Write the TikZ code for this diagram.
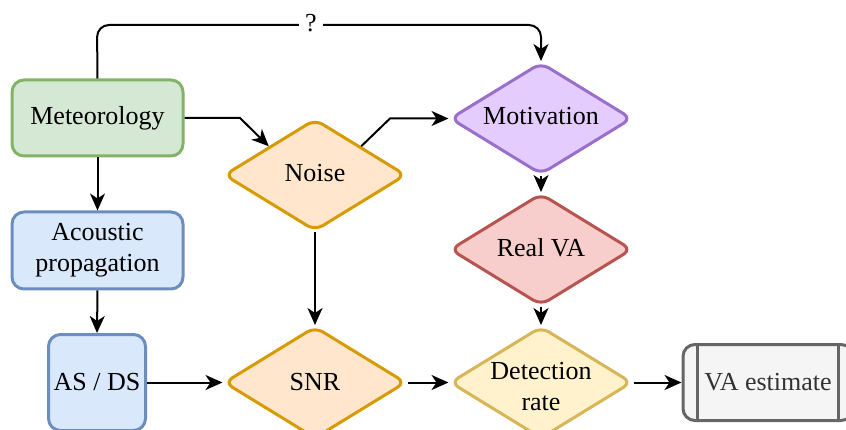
\documentclass[tikz,border=0pt]{standalone}
\usepackage{fontspec}
\setmainfont{Liberation Serif}
\usetikzlibrary{shapes.geometric,arrows.meta}
\definecolor{gfill}{HTML}{D5E8D4}\definecolor{gline}{HTML}{82B366}
\definecolor{bfill}{HTML}{DAE8FC}\definecolor{bline}{HTML}{6C8EBF}
\definecolor{ofill}{HTML}{FFE6CC}\definecolor{oline}{HTML}{D79B00}
\definecolor{pfill}{HTML}{E5CCFF}\definecolor{pline}{HTML}{9A6FCB}
\definecolor{rfill}{HTML}{F8CECC}\definecolor{rline}{HTML}{B85450}
\definecolor{yfill}{HTML}{FFF2CC}\definecolor{yline}{HTML}{D6B656}
\definecolor{kfill}{HTML}{F5F5F5}\definecolor{kline}{HTML}{666666}\definecolor{ktext}{HTML}{333333}
\tikzset{
  lbl/.style={font=\fontsize{26pt}{31pt}\selectfont, align=center, inner sep=0pt},
  rbox/.style={lbl, rectangle, rounded corners=12pt, line width=3pt, inner sep=0pt},
  dia/.style={diamond, rounded corners=9pt, line width=3pt, inner sep=0pt,
              minimum width=182pt, minimum height=112pt},
  conn/.style={line width=2pt, -{Stealth[length=17pt,width=15pt,inset=5pt]}},
}
\begin{document}
\begin{tikzpicture}[x=1pt,y=-1pt]
\useasboundingbox (0,0) rectangle (846,430);
% nodes
\node[rbox, draw=gline, fill=gfill, minimum width=171pt, minimum height=76pt] (met) at (97.5,118) {Meteorology};
\node[rbox, draw=bline, fill=bfill, minimum width=171pt, minimum height=77pt] (aco) at (97.5,250.5) {Acoustic\\propagation};
\node[rbox, draw=bline, fill=bfill, minimum width=97pt, minimum height=96pt] (asds) at (97,382.5) {AS / DS};
\node[dia, draw=oline, fill=ofill] (noise) at (315,175) {};
\node[lbl] (noiset) at (315,173) {Noise};
\node[dia, draw=oline, fill=ofill] (snr) at (315,382.5) {};
\node[lbl] (snrt) at (315,382.5) {SNR};
\node[dia, draw=pline, fill=pfill] (mot) at (541,118.5) {};
\node[lbl] (mott) at (541,116) {Motivation};
\node[dia, draw=rline, fill=rfill] (real) at (541,249.5) {};
\node[lbl] (realt) at (541,248) {Real VA};
\node[dia, draw=yline, fill=yfill] (det) at (541,382.5) {};
\node[lbl] (dett) at (541,387) {Detection\\rate};
\node[rbox, draw=kline, fill=kfill, text=ktext, minimum width=170pt, minimum height=76pt] (va) at (768,382.5) {VA estimate};
\draw[kline, line width=3pt] ([xshift=16pt]va.north west) -- ([xshift=16pt]va.south west);
\draw[kline, line width=3pt] ([xshift=-16pt]va.north east) -- ([xshift=-16pt]va.south east);
% connectors
\coordinate (q1) at (97,25);
\coordinate (q2) at (541,25);
\draw[conn, rounded corners=12pt] (met.north) -- (q1) -- (q2) -- (mot.north);
\node[lbl, fill=white, inner sep=6pt] (qm) at (311,23) {?};
\coordinate (b1) at (240,118);
\draw[conn] (met.east) -- (b1) -- (noise.north west);
\coordinate (b2) at (390,118.5);
\draw[conn] (noise.north east) -- (b2) -- (mot.west);
\draw[conn] (met.south) -- (aco.north);
\draw[conn] (aco.south) -- (asds.north);
\draw[conn] (noise.south) -- (snr.north);
\draw[conn] (asds.east) -- (snr.west);
\draw[conn] (snr.east) -- (det.west);
\draw[conn] (mot.south) -- (real.north);
\draw[conn] (real.south) -- (det.north);
\draw[conn] (det.east) -- (va.west);
\end{tikzpicture}
\end{document}
